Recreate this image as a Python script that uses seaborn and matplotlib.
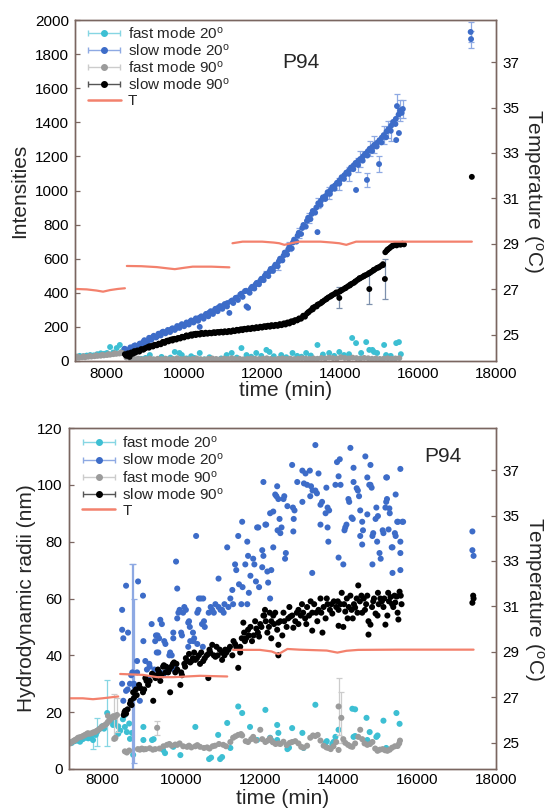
import numpy as np
import pandas as pd
import matplotlib
matplotlib.use("Agg")
import matplotlib.pyplot as plt
import seaborn as sns
from matplotlib.ticker import MultipleLocator
from matplotlib.lines import Line2D
from matplotlib.container import ErrorbarContainer
from matplotlib.legend_handler import HandlerErrorbar

sns.set_theme(style="white")
plt.rcParams["font.family"] = ["Liberation Sans", "DejaVu Sans"]
plt.rcParams["mathtext.default"] = "regular"

# ---------------- data: top panel (Intensities) ----------------
int_fast20 = [(7230,25),(7320,30),(7410,28),(7500,32),(7590,35),(7680,33),(7770,40),(7860,45),(7950,42),
              (8020,47),(8100,82),(8180,50),(8270,76),(8350,94),(8430,60),
              (8560,30),(8650,10),(8730,2),(8810,0),(8900,12),(9010,18),(9120,35),(9200,8),(9300,2),(9420,24),
              (9530,12),(9650,20),(9760,53),(9880,47),(9940,35),(10060,15),(10180,28),(10260,18),(10400,47),
              (10520,10),(10650,22),(10830,6),(10950,15),(11090,35),(11220,47),(11350,20),(11470,76),(11600,35),
              (11720,25),(11850,47),(11980,30),(12110,65),(12190,53),(12300,28),(12490,35),(12620,22),(12780,47),
              (12900,30),(13010,25),(13130,47),(13250,32),(13420,94),(13560,38),(13720,47),(13850,30),(13980,53),
              (14100,35),(14230,40),(14310,135),(14410,105),(14540,47),(14670,111),(14750,65),(14830,65),
              (14870,53),(14950,47),(15130,94),(15180,35),(15300,30),(15440,105),(15510,111),(15560,40)]

int_slow20 = [(8450,50),(8500,68),(8560,55),(8620,80),(8680,66),(8740,92),(8800,84),(8860,102),(8920,96),
              (8980,122),(9040,108),(9100,136),(9160,124),(9220,148),(9280,138),(9340,160),(9400,150),(9460,172),
              (9520,162),(9580,182),(9640,170),(9700,192),(9760,182),(9820,205),(9880,194),(9940,216),(10000,204),
              (10060,226),(10120,214),(10180,238),(10240,226),(10300,250),(10360,236),(10400,200),(10440,262),
              (10500,248),(10560,276),(10620,262),(10680,292),(10740,276),(10800,306),(10860,292),(10920,322),
              (10980,306),(11040,334),(11100,320),(11160,282),(11200,350),(11260,340),(11320,370),(11380,358),
              (11440,390),(11500,376),(11560,410),(11600,320),(11640,312),(11680,400),(11740,435),(11800,425),
              (11860,458),(11920,450),(11980,482),(12040,474),(12100,510),(12160,498),(12220,540),(12280,528),
              (12340,565),(12400,556),(12460,600),(12520,590),(12580,636),(12640,625),(12700,672),(12760,660),
              (12820,712),(12880,700),(12940,752),(13000,745),(13060,798),(13120,788),(13180,840),(13240,832),
              (13300,880),(13360,870),(13420,756),(13440,925),(13500,915),(13560,960),(13620,950),(13680,990),
              (13740,980),(13800,1020),(13860,1010),(13920,1045),(13980,1040),(14040,1078),(14100,1068),
              (14160,1105),(14220,1098),(14280,1135),(14340,1125),(14410,1003),(14400,1162),(14460,1150),
              (14520,1185),(14580,1175),(14640,1215),(14690,1062),(14700,1205),(14760,1245),(14820,1232),
              (14880,1268),(14940,1258),(15000,1155),(15010,1295),(15060,1282),(15120,1325),(15180,1312),
              (15240,1360),(15300,1350),(15360,1402),(15420,1390),(15440,1296),(15460,1495),(15500,1445),
              (15510,1337),(15540,1470),(15580,1455),(15610,1478),(17350,1930),(17360,1888),
              (8470,72),(8590,62),(8710,88),(8830,90),(8950,112),(9070,118),(9190,140),(9310,145),(9430,168),
              (9550,170),(9670,186),(9790,192),(9910,208),(10030,214),(10150,230),(10270,236),(10390,254),
              (10510,262),(10630,282),(10750,292),(10870,312),(10990,322),(11110,340),(11230,355),(11350,372),
              (11470,395),(11590,412),(11710,425),(11830,448),(11950,470),(12070,500),(12190,525),(12310,552),
              (12430,585),(12550,618),(12670,655),(12790,695),(12910,735),(13030,780),(13150,822),(13270,862),
              (13390,900),(13510,940),(13630,968),(13750,1000),(13870,1030),(13990,1060),(14110,1090),
              (14230,1118),(14350,1148),(14470,1175),(14590,1200),(14710,1230),(14830,1255),(14950,1280),
              (15070,1310),(15190,1345),(15310,1380),(15430,1420),(15550,1460)]

int_fast90 = [(7220,18),(7300,20),(7380,22),(7460,22),(7540,25),(7620,26),(7700,28),(7780,30),(7860,31),
              (7940,33),(8020,35),(8100,37),(8180,40),(8260,42),(8340,44),(8420,46),
              (7260,26),(7420,28),(7580,30),(7740,33),(7900,36),(8060,40),(8220,45),(8380,50),
              (8520,20),(8620,15),(8720,12),(8820,14),(8920,10),(9020,12),(9120,15),(9220,10),(9320,13),
              (9420,11),(9520,14),(9620,10),(9720,12),(9820,16),(9920,11),(10020,13),(10120,10),(10220,12),
              (10320,15),(10420,11),(10520,9),(10620,13),(10720,15),(10820,12),(10920,10),(11020,14),(11120,12),
              (11220,16),(11320,11),(11420,13),(11520,10),(11620,12),(11720,15),(11820,13),(11920,11),(12020,14),
              (12120,16),(12220,12),(12320,10),(12420,13),(12520,15),(12620,12),(12720,14),(12820,11),(12920,13),
              (13020,16),(13120,14),(13220,12),(13320,15),(13420,13),(13520,18),(13620,15),(13720,20),(13820,17),
              (13920,14),(14020,22),(14120,18),(14220,15),(14320,20),(14420,17),(14520,14),(14620,18),(14720,16),
              (14820,13),(14920,15),(15020,12),(15120,14),(15220,16),(15320,13),(15420,15),(15520,17)]

int_slow90 = [(8480,40),(8520,30),(8560,45),(8600,24),(8640,50),(8680,42),(8720,58),(8760,52),(8800,62),
              (8850,55),(8900,70),(8950,66),(9000,75),(9050,80),(9100,78),(9150,88),(9200,85),(9250,95),
              (9300,92),(9350,102),(9400,98),(9450,110),(9500,106),(9550,118),(9600,115),(9650,125),(9700,120),
              (9750,130),(9800,126),(9850,135),(9900,132),(9950,142),(10000,138),(10050,148),(10100,144),
              (10150,152),(10200,148),(10250,158),(10300,152),(10350,160),(10400,155),(10450,165),(10500,158),
              (10550,166),(10600,160),(10650,166),(10700,162),(10750,168),(10800,164),(10850,170),(10900,166),
              (10950,172),(11000,167),(11050,174),(11100,169),(11150,176),(11200,171),(11250,179),(11300,175),
              (11350,183),(11400,178),(11450,186),(11500,181),(11550,189),(11600,185),(11650,192),(11700,187),
              (11750,195),(11800,190),(11850,198),(11900,193),(11950,201),(12000,196),(12050,204),(12100,199),
              (12150,207),(12200,201),(12250,210),(12300,204),(12350,212),(12400,206),(12450,216),(12500,210),
              (12550,220),(12600,214),(12650,226),(12700,220),(12750,233),(12800,228),(12850,240),(12900,238),
              (12950,250),(13000,248),(13050,263),(13100,260),(13150,278),(13200,288),(13250,298),(13300,303),
              (13350,318),(13400,320),(13450,333),(13500,338),(13550,348),(13600,356),(13650,363),(13700,373),
              (13750,378),(13800,386),(13850,393),(13900,396),(13950,403),(13980,370),(14000,408),(14050,416),
              (14100,423),(14150,430),(14200,438),(14250,443),(14300,453),(14350,458),(14400,468),(14450,476),
              (14500,483),(14550,490),(14600,496),(14650,503),(14700,508),(14750,422),(14750,516),(14800,523),
              (14850,530),(14900,538),(14950,546),(15000,550),(15050,558),(15100,568),(15150,481),(15160,638),
              (15200,648),(15260,660),(15300,668),(15350,676),(15400,680),(15450,678),(15500,686),(15550,682),
              (15600,688),(15640,684),(17380,1080),
              (8500,35),(8620,38),(8740,48),(8860,62),(8980,72),(9100,86),(9220,92),(9340,98),(9460,112),
              (9580,120),(9700,128),(9820,132),(9940,140),(10060,150),(10180,156),(10300,160),(10420,162),
              (10540,162),(10660,164),(10780,168),(10900,170),(11020,172),(11140,174),(11260,178),(11380,182),
              (11500,186),(11620,190),(11740,192),(11860,196),(11980,200),(12100,204),(12220,208),(12340,210),
              (12460,214),(12580,220),(12700,226),(12820,236),(12940,246),(13060,266),(13180,285),(13300,312),
              (13420,330),(13540,346),(13660,366),(13780,384),(13900,402),(14020,414),(14140,428),(14260,448),
              (14380,464),(14500,486),(14620,500),(14740,514),(14860,534),(14980,548),(15100,562),(15220,654),
              (15340,674),(15460,684),(15580,686)]

int_slow20_err = [(12100,510,20),(12400,556,22),(12700,672,25),(12940,752,28),(13200,840,30),(13440,925,30),
                  (13720,985,35),(13980,1040,35),(14230,1098,40),(14460,1150,42),(14500,1185,45),
                  (14690,1062,40),(14760,1245,45),(14880,1268,50),(15000,1155,45),(15120,1325,55),
                  (15240,1360,50),(15300,1350,60),(15460,1495,70),(15540,1470,60),(15610,1478,55),
                  (17350,1930,60),(17360,1888,50)]
int_slow90_err = [(13980,370,62),(14750,422,90),(15150,481,120)]

T_top = [(1,7200,27.02),(1,7500,27.0),(1,7750,26.95),(1,7920,26.9),(1,8100,26.97),(1,8300,27.02),(1,8480,27.05),
         (2,8530,28.03),(2,8900,28.02),(2,9300,27.98),(2,9600,27.92),(2,9760,27.89),(2,10000,27.95),
         (2,10220,28.0),(2,10700,28.0),(2,11000,27.98),(2,11160,27.97),
         (3,11240,29.03),(3,11500,29.1),(3,12000,29.1),(3,12300,29.06),(3,12440,29.03),(3,12570,28.96),
         (3,12800,29.05),(3,12950,29.1),(3,13500,29.1),(3,13800,29.06),(3,13980,29.03),(3,14160,28.96),
         (3,14410,29.1),(3,15000,29.1),(3,16000,29.1),(3,17380,29.1)]

# ---------------- data: bottom panel (Hydrodynamic radii) ----------------
rad_fast20 = [(7150,9.5),(7220,9.2),(7290,9.8),(7360,10.0),(7430,9.6),(7500,10.5),(7570,11.0),(7640,10.8),
              (7700,11.5),(7760,10.2),(7830,12.0),(7860,13.0),(7920,14.0),(7990,15.0),(8040,14.2),(8120,19.7),
              (8200,17.0),(8270,15.5),(8320,16.5),(8400,12.4),(8400,15.0),(8450,13.5),(8520,17.5),(8570,14.8),
              (8570,19.0),(8620,13.0),(8680,16.0),(8700,10.6),(8750,12.7),(8780,5.0),
              (9040,14.8),(9040,10.2),(9260,10.2),(9300,10.5),(9540,6.7),(9590,5.6),(9800,7.8),(9980,4.9),
              (10360,14.8),(10710,3.5),(10760,4.0),(10940,12.0),(10990,3.5),(11040,4.2),(11170,16.2),
              (11250,7.4),(11450,22.0),(11550,19.7),(11750,14.8),(11930,10.2),(12140,20.8),(12260,11.0),
              (12300,10.0),(12440,15.5),(12470,12.7),(12440,10.2),(12700,7.0),(12740,7.5),(12820,14.4),
              (13080,12.7),(13110,7.4),(13410,22.6),(13670,9.2),(13700,9.8),(13840,8.8),(13870,9.5),
              (13920,11.3),(14000,13.8),(14350,21.2),(14420,21.0),(14380,11.3),(14420,11.6),(14710,18.0),
              (14790,13.0),(14730,10.2),(14960,11.3),(14990,11.8),(15140,17.0),(15210,7.4),(15470,19.7),
              (15550,15.9)]

rad_slow20 = [(8500,56),(8500,49),(8530,46),(8650,48),(8500,30),(8600,27.5),(8640,28),(8530,24),(8600,64.5),
              (8730,33),(8760,34),(8700,30),(8800,30),(8820,29),(8880,38),(8880,34),(8905,66),(8950,24),
              (9030,61),(9040,45),(9090,38),(9130,35),(9160,32),(9190,37),(9200,36),(9250,51),(9320,35),
              (9340,45),(9360,47),(9380,41),(9400,47),(9420,41),(9440,46),(9470,52.5),(9470,34),(9510,51),
              (9540,33),(9570,45),(9600,44),(9640,35.6),(9700,40),(9720,41),(9760,40),(9800,48),(9800,46),
              (9820,35),(9850,36),(9870,73),(9900,53),(9900,63.5),(9930,55),(9960,56),(10000,48),(10020,47),
              (10050,55),(10080,57),(10120,56),(10180,51.5),(10180,43),(10200,52),(10220,50),(10230,45),
              (10300,48),(10310,45),(10330,46),(10380,82),(10410,55),(10410,44),(10440,56),(10450,60),
              (10500,60),(10530,51),(10550,43),(10560,60),(10580,52),(10600,50),(10700,55),(10750,57),
              (10790,56),(10830,55),(10870,58),(10950,67),(10950,57),(11000,56),(11040,56),(11080,55),
              (11100,58),(11170,78),(11200,57),(11250,60),(11300,63),(11320,58),(11370,72),(11400,70),
              (11450,82),(11470,65),(11530,58),(11550,87),(11560,64),(11630,72),(11680,80),(11680,58),
              (11700,75),(11720,62),(11760,68),(11830,74),(11860,72),(11900,66),(11930,85),(11960,85),
              (11980,64),(12060,77),(12060,71),(12090,101),(12090,75),(12140,86),(12160,86),(12190,69.5),
              (12210,65.6),(12260,90),(12260,60),(12290,70),(12340,78),(12340,90.6),(12390,96.6),(12420,96),
              (12440,99.5),(12450,84),(12470,95),(12500,88),(12520,83),(12550,85),(12600,95),(12620,96),
              (12640,74),(12660,76),(12700,92.5),(12820,107),(12840,92),(12850,83.6),(12860,88),(12880,91),
              (12950,101),(13080,105),(13080,94),(13120,100.5),(13160,104),(13200,100),(13270,105),(13280,96),
              (13300,99.5),(13330,69),(13340,98),(13410,114),(13410,98),(13450,97),(13490,104),(13540,93),
              (13540,86),(13580,94),(13670,90),(13690,99),(13720,92),(13720,85),(13740,80),(13760,91),
              (13920,100),(13960,108),(14000,74.4),(14000,103),(14030,109),(14050,100),(14120,72),(14150,84),
              (14170,85),(14200,86),(14250,95),(14270,94),(14300,113),(14330,88.5),(14360,88),(14380,106),
              (14380,101),(14460,98.8),(14490,98),(14520,96),(14550,91),(14550,82),(14600,87),(14620,84),
              (14600,79),(14680,110),(14730,102.6),(14730,89.6),(14780,100),(14810,100),(14810,107),
              (14840,99),(14860,82),(14880,83),(14860,72),(14940,88),(14960,92),(14980,80),(15000,89),
              (15040,76),(15070,74),(15120,84),(15140,83),(15190,92),(15210,102.6),(15230,102.6),(15210,94),
              (15230,95),(15270,84.3),(15290,91.7),(15300,90),(15350,78),(15370,78),(15370,69),(15430,83),
              (15450,96.6),(15450,82),(15490,87),(15510,87),(15570,105.6),(15570,80),(15570,76),(15570,70),
              (15620,87),(15640,87),(17400,83.6),(17400,77),(17430,75)]

rad_fast90 = [(7130,9.2),(7180,9.0),(7230,9.6),(7270,9.9),(7300,10.2),(7340,10.5),(7380,11.0),(7430,11.2),
              (7480,11.4),(7520,11.7),(7560,12.0),(7600,12.3),(7630,12.6),(7680,12.4),(7730,12.6),(7770,12.9),
              (7810,13.0),(7850,13.4),(7890,13.7),(7940,14.3),(7990,14.9),(8030,15.2),(8070,15.5),(8110,16.0),
              (8140,16.6),(8140,18.7),(8190,17.2),(8240,18.0),(8280,18.6),(8320,18.3),(8370,19.0),(8300,10.6),
              (8330,11.0),
              (8570,6.2),(8620,5.8),(8680,6.5),(8900,7.0),(8950,6.8),(9000,7.2),(9050,6.9),(9100,7.0),
              (9200,7.3),(9280,6.8),(9340,7.0),(9390,14.5),(9450,7.2),(9550,8.0),(9640,8.5),(9700,8.8),
              (9760,8.2),(9850,8.6),(9900,8.5),(9960,9.0),(10050,8.0),(10150,7.8),(10200,8.2),(10260,7.6),
              (10360,8.0),(10410,8.4),(10480,7.8),(10580,7.4),(10660,7.6),(10720,7.2),(10800,8.0),(10860,8.2),
              (10960,8.8),(11070,8.5),(11140,8.0),(11250,9.5),(11320,11.0),(11380,11.5),(11450,12.0),
              (11520,12.3),(11550,11.8),(11640,9.8),(11700,9.5),(11780,10.5),(11830,11.3),(11900,10.0),
              (12010,13.8),(12060,10.5),(12140,9.5),(12200,10.0),(12260,10.8),(12330,9.4),(12400,8.8),
              (12480,9.0),(12520,8.8),(12600,9.6),(12680,8.4),(12760,9.2),(12820,9.5),(12900,9.8),(12980,9.0),
              (13050,7.8),(13110,7.5),(13200,8.2),(13280,11.0),(13350,11.8),(13410,11.6),(13470,12.0),
              (13540,10.0),(13620,8.2),(13690,7.6),(13740,7.4),(13800,7.0),(13870,8.0),(13940,9.5),(14000,6.7),
              (14000,22.0),(14070,18.0),(14120,10.5),(14170,9.2),(14240,8.5),(14300,8.0),(14350,7.8),
              (14420,9.0),(14500,11.3),(14550,13.8),(14600,10.5),(14660,9.0),(14730,8.5),(14800,8.8),
              (14860,9.5),(14930,7.2),(14990,6.4),(15050,6.8),(15120,7.0),(15180,6.6),(15240,6.4),(15300,6.8),
              (15360,7.5),(15430,8.0),(15500,8.1),(15540,9.0),(15560,10.0)]

rad_slow90 = [(8540,19),(8560,20),(8580,20.5),(8600,19.5),(8640,21),(8700,23),(8720,24),(8740,22.5),(8780,27),
              (8800,25),(8850,28),(8870,26),(8930,29.6),(8960,28.5),(9030,27),(9060,28),(9090,32),(9120,31),
              (9160,29.6),(9200,31),(9260,33.5),(9290,24),(9300,33),(9350,32),(9410,35),(9440,34),(9470,31),
              (9500,33),(9540,36),(9560,36.5),(9600,34),(9670,34),(9700,35),(9720,27),(9750,36),(9790,37),
              (9820,37.5),(9850,34),(9900,35),(9980,29.6),(10000,34),(10020,33),(10080,37),(10100,36),
              (10140,38),(10200,40.5),(10230,37.5),(10260,38),(10300,39),(10360,38.4),(10400,39),(10450,40),
              (10510,41),(10560,38),(10600,39),(10650,40),(10690,40.5),(10690,32),(10740,41),(10790,43.7),
              (10830,40),(10870,39.5),(10930,40),(10980,42),(11040,41),(11040,38.4),(11100,40),(11150,41),
              (11200,42),(11240,43),(11300,40),(11370,44),(11400,43),(11450,35.6),(11500,41),(11500,43),
              (11540,46),(11580,51.5),(11620,45),(11650,46),(11700,49),(11720,47),(11800,45),(11840,47),
              (11910,49.4),(11950,48),(11980,46.6),(12040,50),(12090,54),(12110,54),(12150,52),(12190,48),
              (12230,50),(12290,52),(12290,46),(12340,54),(12390,55),(12440,49),(12470,51.5),(12470,43.7),
              (12470,40),(12520,52),(12570,47),(12620,52),(12680,50),(12720,53),(12770,53.6),(12820,54),
              (12850,49.7),(12900,52),(12980,56),(12980,51),(13040,54),(13100,55),(13150,53),(13200,57),
              (13250,54),(13330,55),(13330,48.7),(13380,58),(13430,55),(13490,56),(13540,60),(13590,48),
              (13620,57),(13670,53),(13720,58),(13780,56),(13840,54.7),(13880,59),(13940,57),(14000,56),
              (14000,50.4),(14050,58),(14080,62),(14120,50),(14170,55.4),(14210,60),(14260,57),(14300,61),
              (14360,53),(14390,58),(14420,56.8),(14460,60),(14500,64.6),(14540,59),(14600,55),(14640,60),
              (14700,58),(14760,52),(14760,47.3),(14810,50.8),(14850,57),(14900,60),(14940,54.7),(14990,54),
              (15020,58),(15060,60),(15100,59),(15140,57),(15190,50.8),(15240,54),(15280,59),(15320,60.5),
              (15360,58),(15390,57),(15440,58.6),(15480,60.7),(15520,52.6),(15550,62.4),(15580,61),(15600,58),
              (17400,58.5),(17420,61),(17430,60),
              (9380,33),(9620,36),(9880,37),(10120,39),(10330,41),(10480,37),(10720,42),(10900,43),(11120,42),
              (11330,45),(11600,48),(11760,50),(11880,52),(12010,51),(12130,56),(12250,55),(12360,51),
              (12600,55),(12750,57),(12940,55),(13070,58),(13180,51),(13290,59),(13460,52),(13560,55),
              (13700,60),(13820,58),(13980,59),(14140,58),(14230,53),(14330,56),(14480,55),(14580,61),
              (14670,56),(14730,61),(14880,59),(15000,62),(15160,60),(15260,62),(15420,61),(15500,55)]

rad_slow20_err = [(8750,33,39),(8780,30,42),(8800,31,29)]
rad_fast20_err = [(8120,19.7,11.5),(7860,13.0,5.0),(7760,10.2,3.0)]
rad_fast90_err = [(8300,18.3,8.0),(8370,19.0,6.0),(14000,22.0,10.0),(14070,18.0,9.0),(9390,14.5,2.5)]

T_bot = [(1,7150,26.96),(1,7500,26.96),(1,7760,26.92),(1,8000,26.96),(1,8200,27.0),(1,8400,27.04),
         (2,8450,28.03),(2,9030,27.99),(2,9390,27.89),(2,9800,27.89),(2,10480,27.95),(2,11170,27.92),
         (3,11320,29.09),(3,12000,29.09),(3,12300,29.02),(3,12470,28.9),(3,12700,29.13),(3,13000,29.1),
         (3,13700,29.06),(3,13970,28.97),(3,14200,29.05),(3,14500,29.09),(3,15500,29.1),(3,17430,29.1)]

labels = ["fast mode 20$^{o}$", "slow mode 20$^{o}$", "fast mode 90$^{o}$", "slow mode 90$^{o}$", "T"]

# ---------------- styling ----------------
C_FAST20, C_SLOW20, C_FAST90, C_SLOW90, C_T = "#3dbfd3", "#3d6cc8", "#9b9b9b", "#000000", "#f3816d"
E_FAST20, E_SLOW20, E_FAST90, E_SLOW90 = "#86d6e3", "#8ea9e3", "#cccccc", "#7d90ad"
SPINE = "#7a6660"

W, H = 547, 809
fig = plt.figure(figsize=(W / 100, H / 100), dpi=100)


def axes_px(l, t, r, b):
    return fig.add_axes([l / W, 1 - b / H, (r - l) / W, (b - t) / H])


def scatter(ax, data, color, s, z):
    df = pd.DataFrame(data, columns=["t", "v"])
    sns.scatterplot(data=df, x="t", y="v", ax=ax, color=color, s=s, linewidth=0,
                    edgecolor="none", legend=False, zorder=z)


def errbars(ax, data, color, z):
    df = pd.DataFrame(data, columns=["t", "v", "e"])
    ax.errorbar(df["t"], df["v"], yerr=df["e"], fmt="none", ecolor=color, elinewidth=0.9,
                capsize=2, capthick=0.9, zorder=z)


def style(ax, xpad):
    for sp in ax.spines.values():
        sp.set_color(SPINE)
        sp.set_linewidth(1.0)
    ax.tick_params(which="both", direction="in", length=3.5, width=0.9, color=SPINE,
                   labelsize=11, pad=4.5, labelcolor="black")
    ax.tick_params(axis="x", which="both", pad=xpad)


def panel(ax, fast20, slow20, fast90, slow90, errs, T, xmin, ymax, ystep, ylabel,
          ylab_x, xlab_y, p94, leg_anchor, s, xpad):
    for (data, col, z) in [(fast20, C_FAST20, 3), (slow20, C_SLOW20, 4),
                           (fast90, C_FAST90, 5), (slow90, C_SLOW90, 6)]:
        scatter(ax, data, col, s, z)
    for (data, col, z) in errs:
        errbars(ax, data, col, z)

    ax.set_xlim(xmin, 18000)
    ax.set_ylim(0, ymax)
    ax.xaxis.set_major_locator(MultipleLocator(2000))
    ax.xaxis.set_minor_locator(MultipleLocator(1000))
    ax.yaxis.set_major_locator(MultipleLocator(ystep))
    ax.set_xlabel("time (min)", fontsize=15, va="top")
    ax.xaxis.set_label_coords(0.5, xlab_y)
    ax.set_ylabel(ylabel, fontsize=15)
    ax.yaxis.set_label_coords(ylab_x, 0.5)
    style(ax, xpad)
    ax.text(p94[0], p94[1], "P94", fontsize=15, ha="center", va="center")

    axT = ax.twinx()
    dfT = pd.DataFrame(T, columns=["seg", "t", "T"])
    sns.lineplot(data=dfT, x="t", y="T", units="seg", estimator=None, sort=False, ax=axT,
                 color=C_T, linewidth=1.6, legend=False)
    axT.set_ylim(23.85, 38.85)
    axT.set_yticks([25, 27, 29, 31, 33, 35, 37])
    axT.set_xlim(xmin, 18000)
    axT.set_ylabel("Temperature ($^{o}$C)", fontsize=15, rotation=270, va="bottom")
    axT.yaxis.set_label_coords(1.06, 0.5)
    axT.set_xlabel("")
    style(axT, xpad)

    handles = []
    for mc, ec in [(C_FAST20, E_FAST20), (C_SLOW20, E_SLOW20), (C_FAST90, E_FAST90), (C_SLOW90, "#555555")]:
        h = ax.errorbar([np.nan], [np.nan], xerr=[1.0], fmt="o", ms=4, color=mc, ecolor=ec,
                        elinewidth=1.0, capsize=2.5, capthick=1.0)
        handles.append(h)
    handles.append(Line2D([], [], color=C_T, linewidth=1.8))
    ax.legend(handles, labels, loc="upper left", bbox_to_anchor=leg_anchor, frameon=False,
              fontsize=11, handlelength=2.2, handletextpad=0.45, labelspacing=0.08,
              borderpad=0, borderaxespad=0,
              handler_map={ErrorbarContainer: HandlerErrorbar(xerr_size=1.05)})
    ax.set_xlim(xmin, 18000)
    ax.set_ylim(0, ymax)


axA = axes_px(75, 20, 496, 361)
axB = axes_px(69, 428, 496, 769)

panel(axA, int_fast20, int_slow20, int_fast90, int_slow90,
      [(int_slow20_err, E_SLOW20, 3.5), (int_slow90_err, E_SLOW90, 5.5)],
      T_top, 7200, 2000, 200, "Intensities", -0.108, -0.058, (13000, 1750), (0.03, 0.985), 18, 4.5)

panel(axB, rad_fast20, rad_slow20, rad_fast90, rad_slow90,
      [(rad_fast20_err, E_FAST20, 2.5), (rad_slow20_err, E_SLOW20, 3.5), (rad_fast90_err, E_FAST90, 4.5)],
      T_bot, 7150, 120, 20, "Hydrodynamic radii (nm)", -0.078, -0.058, (16650, 110), (0.03, 0.98), 19, 3.0)

fig.savefig("out.png", dpi=100)
